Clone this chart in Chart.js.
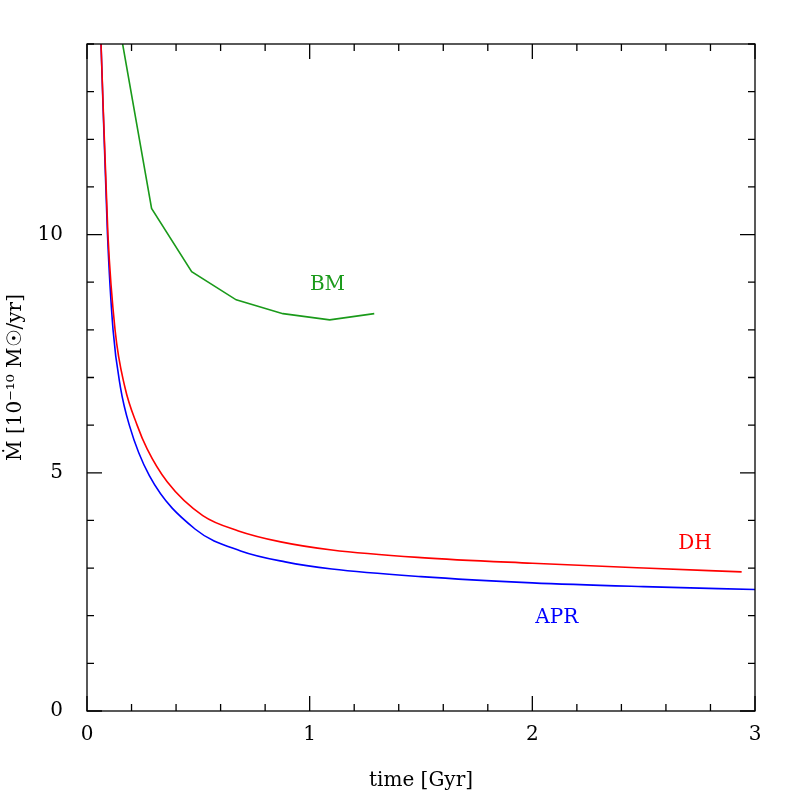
<!DOCTYPE html>
<html>
<head>
<meta charset="utf-8">
<script src="https://cdn.jsdelivr.net/npm/chart.js@4"></script>
<style>
  body { margin: 0; background: #fff; }
  #wrap { width: 797px; height: 797px; }
</style>
</head>
<body>
<div id="wrap"><canvas id="c" width="797" height="797"></canvas></div>
<script>
// accretion rate vs time
const bmTime  = [0.16, 0.29, 0.47, 0.67, 0.88, 1.09, 1.29];
const bmRate  = [14.0, 10.55, 9.22, 8.63, 8.34, 8.21, 8.34];
const dhTime  = [0.063, 0.094, 0.126, 0.17, 0.225, 0.27, 0.36, 0.52, 0.68, 0.87, 1.1, 1.5, 2.0, 2.5, 2.94];
const dhRate  = [14.0, 10.0, 8.0, 6.8, 6.0, 5.5, 4.81, 4.1, 3.78, 3.55, 3.38, 3.22, 3.1, 3.0, 2.92];
const aprTime = [0.063, 0.092, 0.117, 0.15, 0.19, 0.28, 0.485, 0.69, 0.89, 1.1, 1.5, 2.0, 2.5, 3.0];
const aprRate = [14.0, 10.0, 8.0, 6.8, 6.0, 4.94, 3.82, 3.36, 3.13, 2.98, 2.82, 2.69, 2.61, 2.55];
const xTicks = [0, 1, 2, 3];
const yTicks = [0, 5, 10];
const curveLabels = [
  { text: "BM",  x: 1.08, y: 8.95, color: "#1a9a1a" },
  { text: "DH",  x: 2.73, y: 3.5,  color: "#ff0000" },
  { text: "APR", x: 2.11, y: 1.95, color: "#0000ff" }
];

const font = "'DejaVu Serif', 'Liberation Serif', serif";
const pts = (xs, ys) => xs.map((x, i) => ({ x: x, y: ys[i] }));

// inward tick marks on all four sides + curve labels
const framePlugin = {
  id: "frame",
  afterDraw(chart) {
    const ctx = chart.ctx, a = chart.chartArea;
    const xs = chart.scales.x, ys = chart.scales.y;
    ctx.save();
    ctx.strokeStyle = "#000";
    ctx.lineWidth = 1.3;
    ctx.strokeRect(a.left, a.top, a.right - a.left, a.bottom - a.top);
    for (let i = 0; i <= 15; i++) {
      const v = i * 0.2, px = xs.getPixelForValue(v);
      const len = (i % 5 === 0) ? 15 : 7;
      ctx.beginPath();
      ctx.moveTo(px, a.bottom); ctx.lineTo(px, a.bottom - len);
      ctx.moveTo(px, a.top); ctx.lineTo(px, a.top + len);
      ctx.stroke();
    }
    for (let v = 0; v <= 14; v++) {
      const py = ys.getPixelForValue(v);
      const len = (v % 5 === 0) ? 15 : 7;
      ctx.beginPath();
      ctx.moveTo(a.left, py); ctx.lineTo(a.left + len, py);
      ctx.moveTo(a.right, py); ctx.lineTo(a.right - len, py);
      ctx.stroke();
    }
    ctx.font = "20px " + font;
    ctx.textAlign = "center";
    ctx.textBaseline = "middle";
    curveLabels.forEach(l => {
      ctx.fillStyle = l.color;
      ctx.fillText(l.text, xs.getPixelForValue(l.x), ys.getPixelForValue(l.y));
    });
    ctx.restore();
  }
};

new Chart(document.getElementById("c"), {
  type: "line",
  data: {
    datasets: [
      { data: pts(bmTime, bmRate), borderColor: "#1a9a1a" },
      { data: pts(dhTime, dhRate), borderColor: "#ff0000", cubicInterpolationMode: "monotone" },
      { data: pts(aprTime, aprRate), borderColor: "#0000ff", cubicInterpolationMode: "monotone" }
    ]
  },
  options: {
    responsive: false,
    animation: false,
    layout: { padding: { top: 44, right: 42, left: 0, bottom: 0 } },
    elements: { point: { radius: 0 }, line: { borderWidth: 1.6, tension: 0 } },
    plugins: { legend: { display: false }, tooltip: { enabled: false } },
    scales: {
      x: {
        type: "linear", min: 0, max: 3,
        afterBuildTicks: s => { s.ticks = xTicks.map(v => ({ value: v })); },
        afterFit: s => { s.height = 86; },
        grid: { display: false }, border: { display: false },
        ticks: { color: "#000", font: { family: font, size: 20 }, padding: 4 },
        title: { display: true, text: "time [Gyr]", color: "#000", font: { family: font, size: 20 }, padding: { top: 0 } }
      },
      y: {
        type: "linear", min: 0, max: 14,
        afterBuildTicks: s => { s.ticks = yTicks.map(v => ({ value: v })); },
        afterFit: s => { s.width = 87; },
        grid: { display: false }, border: { display: false },
        ticks: { color: "#000", font: { family: font, size: 20 }, padding: 16 },
        title: { display: true, text: "M\u0307 [10\u207B\u00B9\u2070 M\u2609/yr]", color: "#000", font: { family: font, size: 20 }, padding: { bottom: 4 } }
      }
    }
  },
  plugins: [framePlugin]
});
</script>
</body>
</html>
